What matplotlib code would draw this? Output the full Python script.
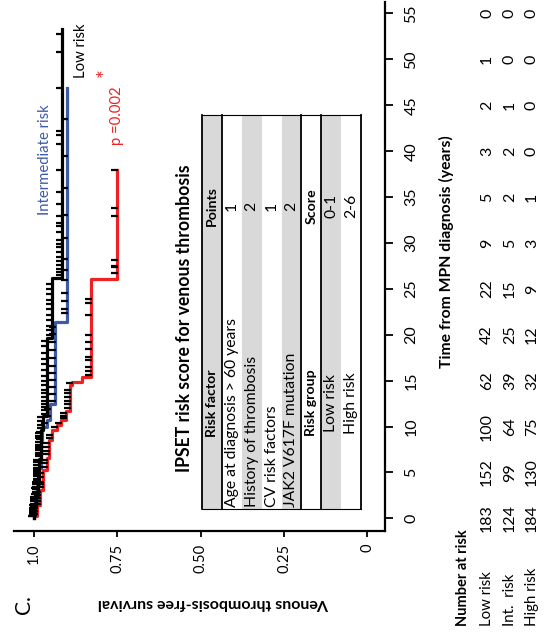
import numpy as np
import matplotlib
matplotlib.use("Agg")
import matplotlib.pyplot as plt
from matplotlib.patches import Rectangle
from matplotlib.path import Path
from matplotlib.transforms import blended_transform_factory

plt.rcParams['font.family'] = ['Lato', 'DejaVu Sans']

# ---------------- data ----------------
low_t = [0.4, 1.2, 2.5, 4.2, 6.5, 9.6, 11.2, 19.6, 26.2]
low_s = [0.997, 0.993, 0.989, 0.985, 0.980, 0.974, 0.962, 0.945, 0.915]
low_end = 53.3
low_cens = [0.2, 0.5, 0.7, 0.9, 1.1, 1.3, 1.6, 1.9, 2.1, 2.3, 2.6, 2.9, 3.2, 3.4, 3.7, 4.0,
            4.3, 4.6, 4.9, 5.2, 5.5, 5.8, 6.1, 6.4, 6.8, 7.1, 7.4, 7.7, 8.0, 8.3, 8.7, 9.0,
            9.3, 9.8, 10.2, 10.6, 11.0, 11.4, 11.8, 12.1, 12.4, 12.8, 13.2, 13.6, 14.0, 14.5,
            15.0, 15.5, 16.2, 16.8, 17.4, 18.0, 18.8, 19.3, 20.0, 20.5, 21.0, 21.6, 22.2,
            22.8, 23.3, 23.8, 24.4, 25.0, 25.5, 26.5, 26.8, 27.2, 27.6, 28.0, 28.5, 29.0,
            29.6, 29.9, 30.3, 31.2, 31.8, 32.2, 32.9, 34.2, 35.6, 38.0, 40.8, 41.8, 42.2,
            46.9, 50.8, 52.8]

int_t = [0.6, 1.8, 3.5, 5.5, 8.5, 10.0, 10.7, 12.5, 21.4]
int_s = [0.996, 0.991, 0.985, 0.980, 0.975, 0.962, 0.952, 0.938, 0.902]
int_end = 46.9
int_cens = [0.3, 0.8, 1.4, 2.0, 2.7, 3.3, 4.1, 4.7, 5.4, 6.2, 7.0, 7.8, 8.6, 9.4, 10.4,
            11.2, 11.9, 12.8, 13.5, 14.3, 15.1, 15.8, 16.6, 17.5, 18.3, 19.2, 20.1, 20.8,
            22.4, 22.8, 23.7, 24.6, 26.0, 27.0, 28.3, 30.5, 33.0, 36.0, 39.5, 43.5]

high_t = [0.3, 1.4, 3.1, 5.3, 6.6, 8.5, 9.6, 10.2, 10.7, 11.7, 14.5, 14.9, 15.4, 26.1]
high_s = [0.990, 0.982, 0.972, 0.960, 0.955, 0.946, 0.930, 0.920, 0.905, 0.892, 0.885,
          0.857, 0.830, 0.752]
high_end = 37.9
high_cens = [0.5, 0.8, 1.1, 1.6, 1.9, 2.2, 2.5, 2.9, 3.4, 3.7, 4.0, 4.5, 4.9, 5.6, 6.0,
             6.4, 7.0, 7.3, 7.8, 8.2, 8.8, 9.1, 9.9, 10.4, 10.9, 11.2, 11.5, 12.0, 12.4,
             12.8, 13.2, 13.6, 14.0, 14.7, 15.6, 16.0, 16.5, 17.2, 17.6, 18.5, 19.2, 20.0,
             22.1, 23.5, 23.9, 26.7, 27.4, 27.5, 28.1, 32.9, 33.8, 37.9]

surv_ticks = [1.0, 0.75, 0.5, 0.25, 0.0]
surv_labels = ['1.0', '0.75', '0.50', '0.25', '0']
time_ticks = [0, 5, 10, 15, 20, 25, 30, 35, 40, 45, 50, 55]

risk_rows = ['Low risk', 'Int.  risk', 'High risk']
n_low = [183, 152, 100, 62, 42, 22, 9, 5, 3, 2, 1, 0]
n_int = [124, 99, 64, 39, 25, 15, 5, 2, 2, 1, 0, 0]
n_high = [184, 130, 75, 32, 12, 9, 3, 1, 0, 0, 0, 0]

risk_factors = ['Age at diagnosis > 60 years', 'History of thrombosis',
                'CV risk factors', 'JAK2 V617F mutation']
risk_points = ['1', '2', '1', '2']
risk_groups = ['Low risk', 'High risk']
group_scores = ['0-1', '2-6']

RED = '#ee2222'
BLUE = '#3d5aa6'
GREY = '#d9d9d9'

W, H = 547, 642
fig = plt.figure(figsize=(W / 100, H / 100), dpi=100)


def fx(px):
    return px / W


def fy(py):
    return 1 - py / H


ax = fig.add_axes([fx(14), fy(530.7), fx(385) - fx(14), fy(2) - fy(530.7)])
ax.set_xlim(1.06, -0.053)
ax.set_ylim(-1.35, 56.25)
for s in ['left', 'top']:
    ax.spines[s].set_visible(False)
for s in ['bottom', 'right']:
    ax.spines[s].set_linewidth(1.6)

# one-sided censor tick (points towards higher survival)
cens_marker = Path([(-1.0, 0.0), (0.2, 0.0)], [Path.MOVETO, Path.LINETO])


def km(ax, t, s, end, cens, color):
    x = np.array([1.0] + list(s) + [s[-1]])
    y = np.array([0.0] + list(t) + [end])
    ax.step(x, y, where='pre', color=color, lw=2.3, zorder=3)
    tt = np.array(t)
    ss = np.array([1.0] + list(s))
    c = np.array(cens)
    idx = np.searchsorted(tt, c, side='right')
    ax.plot(ss[idx], c, ls='none', marker=cens_marker, ms=8, mew=1.6,
            color='black', zorder=4)


km(ax, int_t, int_s, int_end, int_cens, BLUE)
km(ax, high_t, high_s, high_end, high_cens, RED)
km(ax, low_t, low_s, low_end, low_cens, 'black')

ax.set_xticks(surv_ticks)
ax.set_xticklabels(surv_labels)
ax.set_yticks(time_ticks)
ax.yaxis.tick_right()
ax.tick_params(axis='x', direction='out', length=4.5, width=1.3, pad=5,
               labelsize=10.5, labelrotation=90)
ax.tick_params(axis='y', direction='out', length=6, width=1.3, pad=8,
               labelsize=11.5, labelrotation=90)
for lab in ax.get_yticklabels():
    lab.set_va('center')

# axis titles and annotations
fig.text(fx(214), fy(603), 'Venous thrombosis-free survival', rotation=180,
         fontsize=11.5, fontweight='bold', ha='center', va='center')
fig.text(fx(24), fy(605), 'C.', rotation=90, fontsize=15, ha='center', va='center')
fig.text(fx(446), fy(252), 'Time from MPN diagnosis (years)', rotation=90,
         fontsize=11.3, fontweight='bold', ha='center', va='center')
fig.text(fx(184), fy(318), 'IPSET risk score for venous thrombosis', rotation=90,
         fontsize=12.7, fontweight='bold', ha='center', va='center')
fig.text(fx(45), fy(160), 'Intermediate risk', rotation=90, fontsize=10.7,
         color=BLUE, ha='center', va='center')
fig.text(fx(81), fy(51), 'Low risk', rotation=90, fontsize=10.7,
         color='black', ha='center', va='center')
fig.text(fx(116.5), fy(116), 'p =0.002', rotation=90, fontsize=10.7,
         color=RED, ha='center', va='center')
fig.text(fx(106), fy(73), '*', rotation=90, fontsize=15,
         color=RED, ha='center', va='center')

# number at risk
tr = blended_transform_factory(fig.transFigure, ax.transData)
fig.text(fx(463), fy(626), 'Number at risk', rotation=90, rotation_mode='anchor',
         fontsize=10.5, fontweight='bold', ha='left', va='center')
row_x = [487, 510, 532]
for name, xx, vals in zip(risk_rows, row_x, [n_low, n_int, n_high]):
    fig.text(fx(xx), fy(626), name, rotation=90, rotation_mode='anchor',
             fontsize=10.8, ha='left', va='center')
    for tk, v in zip(time_ticks, vals):
        ax.text(fx(xx), tk, str(v), transform=tr, rotation=90, fontsize=11.5,
                ha='center', va='center', clip_on=False)

# IPSET table
tx0, tx1, ty0, ty1 = 202, 361, 115, 509.5
axt = fig.add_axes([fx(tx0), fy(ty1), fx(tx1) - fx(tx0), fy(ty0) - fy(ty1)])
axt.set_xlim(tx0, tx1)
axt.set_ylim(ty1, ty0)
axt.axis('off')
rows = [('Risk factor', 'Points', True, True)]
rows += [(f, p, False, False) for f, p in zip(risk_factors, risk_points)]
rows += [('Risk group', 'Score', True, True)]
rows += [(g, sc, False, True) for g, sc in zip(risk_groups, group_scores)]
rw = (tx1 - tx0) / len(rows)
for i, (c1, c2, bold, centered) in enumerate(rows):
    x0 = tx0 + i * rw
    fc = GREY if i in (0, 2, 4, 6) else 'white'
    axt.add_patch(Rectangle((x0, ty0), rw, ty1 - ty0, fc=fc, ec='none', zorder=1))
    xc = x0 + rw / 2
    fw = 'bold' if bold else 'normal'
    fs = 10.2 if bold else 11.3
    if centered:
        axt.text(xc, 403, c1, rotation=90, fontsize=fs, fontweight=fw,
                 ha='center', va='center', zorder=3)
    else:
        axt.text(xc, 507, c1, rotation=90, rotation_mode='anchor', fontsize=fs,
                 fontweight=fw, ha='left', va='center', zorder=3)
    axt.text(xc, 206, c2, rotation=90, fontsize=fs, fontweight=fw,
             ha='center', va='center', zorder=3)
for i in [0, 1, 5, 6, 8]:
    xl = tx0 + i * rw
    axt.plot([xl, xl], [ty0, ty1], color='black', lw=1.3, zorder=4, clip_on=False)
for yl in [ty0, ty1]:
    axt.plot([tx0, tx1], [yl, yl], color='black', lw=0.8, zorder=4, clip_on=False)

fig.savefig('out.png', dpi=100)
